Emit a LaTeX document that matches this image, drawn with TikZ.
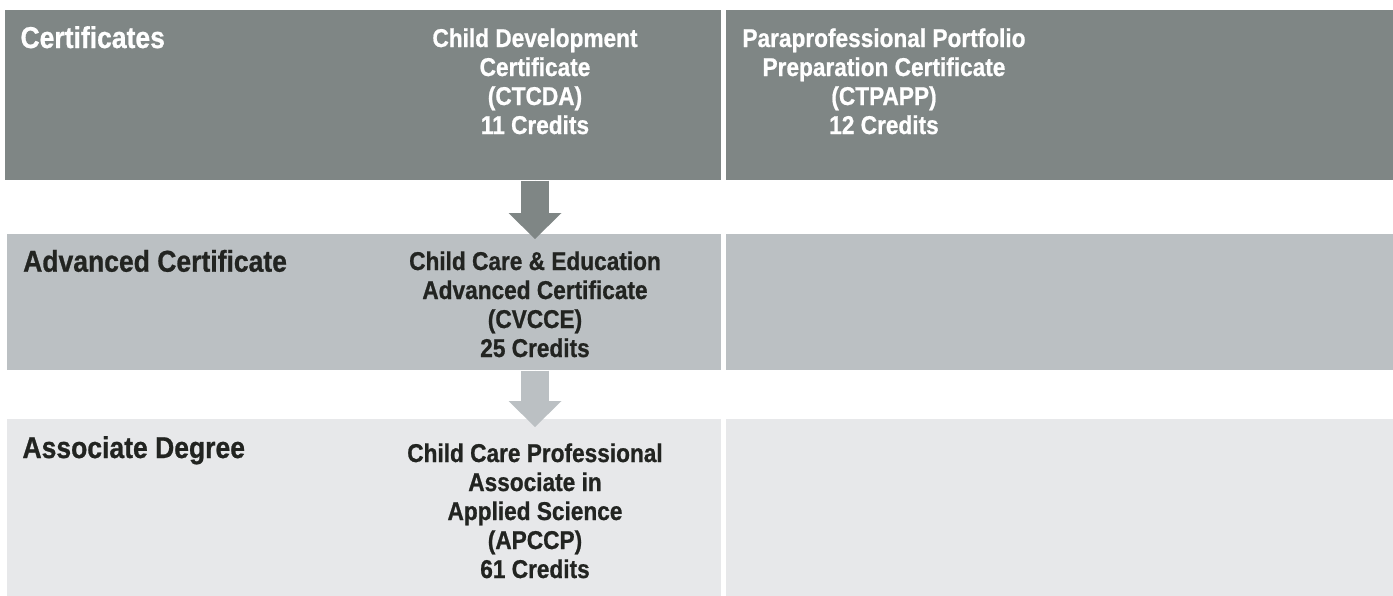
\documentclass[tikz,border=0pt]{standalone}
\usepackage{fontspec}
\setmainfont{Liberation Sans}[FakeStretch=0.88,FakeBold=0.8]
\usetikzlibrary{arrows.meta,fit}

\definecolor{certgray}{RGB}{127,134,133}
\definecolor{advgray}{RGB}{187,192,195}
\definecolor{assocgray}{RGB}{231,232,234}
\definecolor{inkdark}{RGB}{34,36,33}

\tikzset{every picture/.style={line width=0.75pt}}
\tikzset{
  panel/.style={inner sep=0pt, draw=none},
  headtext/.style={anchor=base west, inner sep=0pt, font=\fontsize{22.6}{27}\selectfont\bfseries},
  progtext/.style={anchor=base, inner sep=0pt, align=center, font=\fontsize{19.3}{21.75}\selectfont\bfseries},
  stepdown/.style={line width=21pt, -{Triangle[length=19.5pt,width=39.75pt,line width=0pt]}}
}

\begin{document}
\begin{tikzpicture}[x=0.75pt,y=0.75pt,yscale=-1,xscale=1]
%set diagram left start at 0, and has height of 596
\useasboundingbox (0,0) rectangle (1393,596);

%Shape: Rectangle [certificates row]
\node [panel, fill=certgray, fit={(5,10) (721,180)}] (certL) {};
\node [panel, fill=certgray, fit={(726,10) (1393,180)}] (certR) {};
%Shape: Rectangle [advanced certificate row]
\node [panel, fill=advgray, fit={(7,234) (721,370)}] (advL) {};
\node [panel, fill=advgray, fit={(726,234) (1393,370)}] (advR) {};
%Shape: Rectangle [associate degree row]
\node [panel, fill=assocgray, fit={(7,419) (721,596)}] (assocL) {};
\node [panel, fill=assocgray, fit={(726,419) (1393,596)}] (assocR) {};

% Text Node
\node [headtext, text=white] (certHead) at (20,48) {Certificates};
% Text Node
\node [headtext, text=inkdark] (advHead) at (22.7,271.7) {Advanced Certificate};
% Text Node
\node [headtext, text=inkdark] (assocHead) at (22,458) {Associate Degree};

% Text Node (anchored on the last line)
\node [progtext, text=white] (ctcda) at (535,134) {Child Development\\Certificate\\(CTCDA)\\11 Credits};
% Text Node
\node [progtext, text=white] (ctpapp) at (884,134) {Paraprofessional Portfolio\\Preparation Certificate\\(CTPAPP)\\12 Credits};
% Text Node
\node [progtext, text=inkdark] (cvcce) at (535,357) {Child Care \& Education\\Advanced Certificate\\(CVCCE)\\25 Credits};
% Text Node
\node [progtext, text=inkdark] (apccp) at (535,578) {Child Care Professional\\Associate in\\Applied Science\\(APCCP)\\61 Credits};

%Straight Lines [arrow tips]
\coordinate (tipAdv) at (535,239);
\coordinate (tipAssoc) at (535,427);
\draw [stepdown, draw=certgray, fill=certgray] (certL.south -| ctcda) -- (tipAdv);
\draw [stepdown, draw=advgray, fill=advgray] (advL.south -| cvcce) -- (tipAssoc);

\end{tikzpicture}
\end{document}
